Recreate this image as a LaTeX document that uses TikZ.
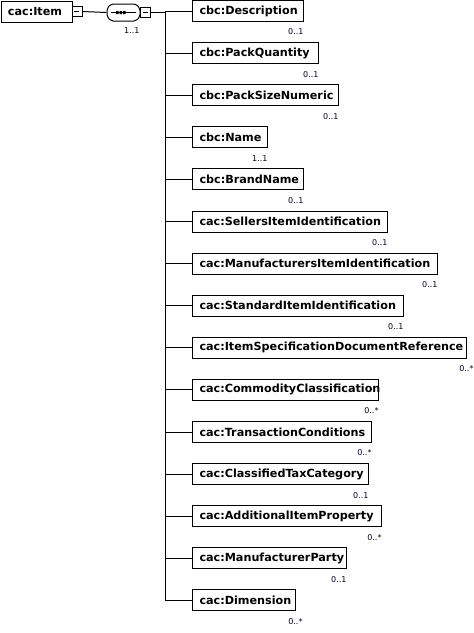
\documentclass[tikz,border=0pt]{standalone}
\usepackage{fontspec}
\setmainfont{DejaVu Sans}
\begin{document}
\begin{tikzpicture}[x=1pt,y=-1pt,
  line width=1pt,
  elbox/.style={draw=black, line width=1pt, minimum height=21pt, inner xsep=7pt, inner ysep=0pt,
    align=left, font=\bfseries\fontsize{11.2}{13}\selectfont, text=black},
  mult/.style={font=\fontsize{8}{9}\selectfont, text=black!85!blue, inner sep=0pt},
  minusbox/.style={draw=black, line width=1pt, minimum width=10pt, minimum height=10pt, inner sep=0pt},
  conn/.style={draw=black, line width=1pt}]
\useasboundingbox (0,0) rectangle (474,633);
% root
\node[elbox, anchor=west, text width=57pt] (item) at (0.5,11.5) {\mbox{cac:Item}};
\node[minusbox, anchor=west] (m1) at (71.5,11.5) {};
\draw (m1.west) ++(2.5,0) -- ++(5,0);
% sequence
\coordinate (seqw) at (107,12.5);
\path[draw=black, line width=1pt, rounded corners=2pt]
  (111,4) -- (136,4) -- (140,8.5) -- (140,16.5) -- (136,21) -- (111,21) -- (107,16.5) -- (107,8.5) -- cycle;
\node[inner sep=0pt, minimum width=33pt, minimum height=17pt] (seq) at (123.5,12.5) {};
\draw[line width=1pt] (111,12.5) -- (136,12.5);
\fill[black] (116,11) rectangle (118.5,14) (119.5,11) rectangle (122,14) (123,11) rectangle (125.5,14);
\node[minusbox, anchor=west] (m2) at (140,12) {};
\draw (m2.west) ++(2.5,0) -- ++(5,0);
\node[mult, anchor=east] (seqm) at (140,31) {1..1};
\draw[conn] (m1.east) -- (seq.west);
\coordinate (trunktop) at (165,12);
\draw[conn] (m2.east) -- (trunktop);
% children
\foreach \i/\txt/\r/\lab/\off in {
  1/cbc:Description/303/0..1/0,
  2/cbc:PackQuantity/318/0..1/0,
  3/cbc:PackSizeNumeric/338/0..1/0,
  4/cbc:Name/267/1..1/0,
  5/cbc:BrandName/303/0..1/0,
  6/cac:SellersItemIdentification/387/0..1/0,
  7/cac:ManufacturersItemIdentification/437/0..1/0,
  8/cac:StandardItemIdentification/403/0..1/0,
  9/cac:ItemSpecificationDocumentReference/466/0..*/7,
  10/cac:CommodityClassification/378/0..*/0,
  11/cac:TransactionConditions/371/0..*/0,
  12/cac:ClassifiedTaxCategory/368/0..1/0,
  13/cac:AdditionalItemProperty/381/0..*/0,
  14/cac:ManufacturerParty/346/0..1/0,
  15/cac:Dimension/295/0..*/7}{
  \pgfmathsetmacro{\yy}{11+42.1*(\i-1)}
  \pgfmathsetmacro{\tw}{\r-192-14}
  \node[elbox, anchor=west, text width=\tw pt] (c\i) at (192,\yy) {\mbox{\txt}};
  \node[mult, anchor=east] (l\i) at ([xshift=\off pt, yshift=-10pt]c\i.south east) {\lab};
  \coordinate (b\i) at (165,\yy);
  \draw[conn] (b\i) -- (c\i.west);
}
\draw[conn] (trunktop) -- (b15);
\end{tikzpicture}
\end{document}
